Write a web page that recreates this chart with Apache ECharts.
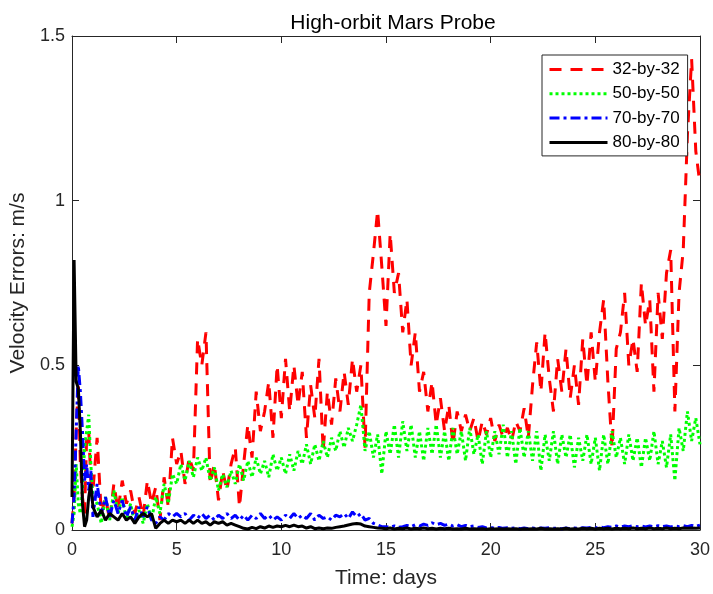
<!DOCTYPE html>
<html>
<head>
<meta charset="utf-8">
<script src="https://cdn.jsdelivr.net/npm/echarts@6/dist/echarts.min.js"></script>
<style>html,body{margin:0;padding:0;background:#fff}#c{width:713px;height:594px}</style>
</head>
<body>
<div id="c"></div>
<script>
// Time grid: 0..0.9 step 0.1, then 1.0..30.0 step 0.2
const timesEarly = [0, 0.1, 0.2, 0.3, 0.4, 0.5, 0.6, 0.7, 0.8, 0.9];
const mainStart = 1.0, mainStep = 0.2, mainCount = 146;

const seriesNames = ['32-by-32', '50-by-50', '70-by-70', '80-by-80'];
const xTicks = [0, 5, 10, 15, 20, 25, 30];
const yTicks = [0, 0.5, 1, 1.5];

const red = [
  0.02, 0.1, 0.3, 0.45, 0.2, 0.1, 0.05, 0.28, 0.3, 0.15,
  0.12, 0.28, 0.05, 0.1, 0.03, 0.14, 0.06, 0.15, 0.08, 0.12,
  0.05, 0.1, 0.04, 0.15, 0.08, 0.13, 0.03, 0.16, 0.07, 0.28,
  0.2, 0.24, 0.14, 0.22, 0.18, 0.58, 0.5, 0.6, 0.14, 0.2,
  0.09, 0.18, 0.12, 0.2, 0.25, 0.07, 0.2, 0.32, 0.22, 0.42,
  0.3, 0.36, 0.45, 0.28, 0.5, 0.34, 0.52, 0.36, 0.5, 0.38,
  0.48, 0.28, 0.44, 0.34, 0.52, 0.24, 0.42, 0.32, 0.46, 0.36,
  0.48, 0.38, 0.52, 0.42, 0.5, 0.25, 0.72, 0.84, 0.97, 0.8,
  0.62, 0.9, 0.72, 0.78, 0.6, 0.7, 0.5, 0.6, 0.42, 0.48,
  0.36, 0.45, 0.32, 0.4, 0.3, 0.38, 0.26, 0.36, 0.3, 0.35,
  0.3, 0.34, 0.27, 0.33, 0.29, 0.34, 0.27, 0.32, 0.28, 0.31,
  0.27, 0.33, 0.3, 0.37, 0.28, 0.44, 0.57, 0.42, 0.6, 0.46,
  0.36, 0.52, 0.42, 0.55, 0.4, 0.5, 0.38, 0.58, 0.44, 0.6,
  0.45, 0.6, 0.7, 0.45, 0.25, 0.55, 0.6, 0.72, 0.5, 0.58,
  0.48, 0.75, 0.62, 0.7, 0.42, 0.72, 0.58, 0.78, 0.85, 0.36,
  0.72, 0.85, 1.2, 1.43, 1.15, 1.05
];
const green = [
  0.01, 0.05, 0.2, 0.08, 0.05, 0.12, 0.25, 0.3, 0.35, 0.2,
  0.1, 0.08, 0.02, 0.1, 0.03, 0.12, 0.05, 0.1, 0.03, 0.08,
  0.02, 0.06, 0.02, 0.08, 0.03, 0.1, 0.05, 0.14, 0.08, 0.17,
  0.14, 0.2, 0.15, 0.21, 0.16, 0.22, 0.18, 0.22, 0.15, 0.19,
  0.12, 0.17, 0.13, 0.18, 0.14, 0.2, 0.15, 0.21, 0.16, 0.22,
  0.17, 0.21, 0.16, 0.23, 0.18, 0.22, 0.17, 0.23, 0.18, 0.24,
  0.2, 0.26, 0.2, 0.26, 0.21, 0.27, 0.22, 0.28, 0.24, 0.3,
  0.25, 0.31, 0.27, 0.32, 0.38, 0.24, 0.3, 0.22, 0.29, 0.17,
  0.3, 0.23, 0.32, 0.22, 0.33, 0.24, 0.32, 0.22, 0.3, 0.21,
  0.31, 0.23, 0.32, 0.22, 0.3, 0.21, 0.31, 0.23, 0.3, 0.21,
  0.31, 0.23, 0.29, 0.2, 0.3, 0.22, 0.3, 0.23, 0.32, 0.22,
  0.3, 0.2, 0.31, 0.22, 0.3, 0.21, 0.3, 0.18, 0.29, 0.21,
  0.3, 0.2, 0.29, 0.22, 0.29, 0.19, 0.28, 0.21, 0.29, 0.2,
  0.28, 0.18, 0.29, 0.2, 0.3, 0.22, 0.28, 0.2, 0.29, 0.21,
  0.28, 0.19, 0.28, 0.21, 0.3, 0.2, 0.27, 0.19, 0.29, 0.15,
  0.31, 0.24, 0.36, 0.27, 0.34, 0.26
];
const blue = [
  0.02, 0.1, 0.3, 0.5, 0.42, 0.3, 0.15, 0.2, 0.12, 0.18,
  0.04, 0.14, 0.05, 0.1, 0.04, 0.09, 0.05, 0.09, 0.04, 0.07,
  0.03, 0.07, 0.04, 0.07, 0.03, 0.02, 0.04, 0.03, 0.05, 0.04,
  0.05, 0.04, 0.05, 0.03, 0.045, 0.035, 0.05, 0.035, 0.045, 0.03,
  0.045, 0.035, 0.05, 0.035, 0.045, 0.03, 0.045, 0.03, 0.045, 0.035,
  0.05, 0.035, 0.045, 0.03, 0.04, 0.03, 0.045, 0.035, 0.05, 0.035,
  0.045, 0.035, 0.05, 0.03, 0.045, 0.035, 0.04, 0.03, 0.045, 0.04,
  0.05, 0.035, 0.055, 0.04, 0.05, 0.03, 0.035, 0.02, 0.015, 0.01,
  0.01, 0.008, 0.012, 0.008, 0.01, 0.014, 0.01, 0.016, 0.012, 0.018,
  0.014, 0.022, 0.016, 0.02, 0.014, 0.018, 0.012, 0.016, 0.01, 0.014,
  0.01, 0.012, 0.008, 0.01, 0.006, 0.008, 0.005, 0.008, 0.005, 0.007,
  0.005, 0.007, 0.004, 0.006, 0.004, 0.006, 0.004, 0.006, 0.005, 0.007,
  0.005, 0.006, 0.004, 0.006, 0.004, 0.006, 0.005, 0.007, 0.006, 0.008,
  0.006, 0.009, 0.007, 0.01, 0.008, 0.012, 0.009, 0.012, 0.01, 0.013,
  0.01, 0.012, 0.009, 0.012, 0.01, 0.013, 0.01, 0.012, 0.009, 0.012,
  0.01, 0.013, 0.01, 0.014, 0.011, 0.015
];
const black = [
  0.1, 0.82, 0.45, 0.43, 0.3, 0.08, 0.01, 0.03, 0.1, 0.14,
  0.07, 0.04, 0.06, 0.03, 0.05, 0.04, 0.03, 0.05, 0.03, 0.04,
  0.02, 0.04, 0.05, 0.04, 0.05, 0.005, 0.02, 0.03, 0.02, 0.03,
  0.025, 0.03, 0.02, 0.03, 0.02, 0.03, 0.02, 0.025, 0.015, 0.025,
  0.02, 0.025, 0.015, 0.02, 0.015, 0.01, 0.005, 0.003, 0.008, 0.004,
  0.01, 0.006, 0.012, 0.008, 0.012, 0.01, 0.014, 0.01, 0.015, 0.01,
  0.012, 0.006, 0.01, 0.004, 0.006, 0.004, 0.006, 0.005, 0.008, 0.01,
  0.012, 0.015, 0.018, 0.02, 0.018, 0.012, 0.01, 0.008, 0.006, 0.005,
  0.004, 0.006, 0.003, 0.005, 0.004, 0.006, 0.003, 0.005, 0.004, 0.006,
  0.004, 0.005, 0.003, 0.005, 0.004, 0.005, 0.003, 0.004, 0.003, 0.005,
  0.003, 0.004, 0.003, 0.004, 0.002, 0.004, 0.003, 0.004, 0.003, 0.004,
  0.003, 0.004, 0.002, 0.004, 0.003, 0.004, 0.003, 0.005, 0.003, 0.004,
  0.003, 0.004, 0.003, 0.005, 0.003, 0.004, 0.003, 0.005, 0.004, 0.005,
  0.003, 0.005, 0.004, 0.005, 0.003, 0.005, 0.004, 0.005, 0.004, 0.006,
  0.004, 0.005, 0.004, 0.006, 0.004, 0.005, 0.004, 0.006, 0.004, 0.005,
  0.004, 0.006, 0.005, 0.006, 0.005, 0.006
];

const times = timesEarly.slice();
for (let i = 0; i < mainCount; i++) times.push(+(mainStart + mainStep * i).toFixed(1));

function pairs(vals) {
  const n = Math.min(vals.length, times.length);
  const out = [];
  for (let i = 0; i < n; i++) out.push([times[i], vals[i]]);
  return out;
}

const FONT = 'Liberation Sans, Arial, sans-serif';
const AX = '#262626';
const chart = echarts.init(document.getElementById('c'), null, {renderer: 'canvas'});

function xAxisCfg(pos, showLabel) {
  return {
    type: 'value', position: pos, min: xTicks[0], max: xTicks[xTicks.length - 1], interval: 5,
    axisLine: {show: true, onZero: false, lineStyle: {color: AX, width: 1}},
    axisTick: {show: true, inside: true, length: 7, lineStyle: {color: AX}},
    axisLabel: {show: showLabel, color: AX, fontSize: 18, fontFamily: FONT, margin: 11},
    splitLine: {show: false}
  };
}
function yAxisCfg(pos, showLabel) {
  return {
    type: 'value', position: pos, min: yTicks[0], max: yTicks[yTicks.length - 1], interval: 0.5,
    axisLine: {show: true, onZero: false, lineStyle: {color: AX, width: 1}},
    axisTick: {show: true, inside: true, length: 7, lineStyle: {color: AX}},
    axisLabel: {show: showLabel, color: AX, fontSize: 18, fontFamily: FONT, margin: 7},
    splitLine: {show: false}
  };
}

const xBottom = Object.assign(xAxisCfg('bottom', true), {
  name: 'Time: days', nameLocation: 'middle', nameGap: 38,
  nameTextStyle: {color: AX, fontSize: 21, fontFamily: FONT}
});
const yLeft = Object.assign(yAxisCfg('left', true), {
  name: 'Velocity Errors: m/s', nameLocation: 'middle', nameGap: 43,
  nameTextStyle: {color: AX, fontSize: 21, fontFamily: FONT}
});

const styles = [
  {color: '#ff0000', type: [12, 9]},
  {color: '#00ff00', type: [3, 3]},
  {color: '#0000ff', type: [10, 4, 3, 4]},
  {color: '#000000', type: 'solid'}
];
const datas = [red, green, blue, black];

chart.setOption({
  animation: false,
  backgroundColor: '#ffffff',
  title: {
    text: 'High-orbit Mars Probe', left: 388, top: 8, textAlign: 'center',
    textStyle: {color: '#000', fontSize: 21, fontWeight: 'normal', fontFamily: FONT}
  },
  grid: {left: 71, right: 7, top: 36, bottom: 61, containLabel: false},
  legend: {
    left: 542, top: 55, orient: 'vertical',
    padding: [6, 8, 5, 6], itemWidth: 58, itemHeight: 14, itemGap: 7.3,
    backgroundColor: '#fff', borderColor: AX, borderWidth: 1,
    itemStyle: {opacity: 0, borderWidth: 0},
    lineStyle: {width: 3},
    textStyle: {color: '#000', fontSize: 17, fontFamily: FONT},
    data: seriesNames
  },
  xAxis: [xBottom, xAxisCfg('top', false)],
  yAxis: [yLeft, yAxisCfg('right', false)],
  series: seriesNames.map((nm, i) => ({
    name: nm, type: 'line', xAxisIndex: 0, yAxisIndex: 0,
    data: pairs(datas[i]), symbol: 'none', showSymbol: false, clip: true,
    lineStyle: {color: styles[i].color, width: 3, type: styles[i].type, cap: 'butt', join: 'bevel'},
    itemStyle: {color: styles[i].color}
  }))
});
</script>
</body>
</html>
